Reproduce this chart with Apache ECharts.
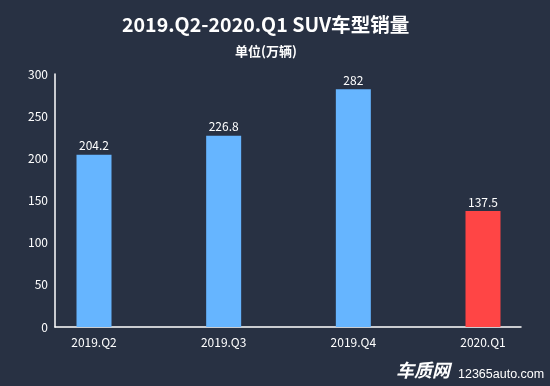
<!DOCTYPE html>
<html><head><meta charset="utf-8">
<script src="https://cdn.jsdelivr.net/npm/echarts@6/dist/echarts.min.js"></script>
<style>html,body{margin:0;padding:0;background:#283143}#c{width:550px;height:386px}</style>
</head><body><div id="c"></div>
<script>
const categories = ['2019.Q2', '2019.Q3', '2019.Q4', '2020.Q1'];
const sales = [204.2, 226.8, 282, 137.5];
const barColors = ['#66b5ff', '#66b5ff', '#66b5ff', '#ff4545'];
const yTicks = { min: 0, max: 300, interval: 50 };
const titleText = '2019.Q2-2020.Q1 SUV车型销量';
const subText = '单位(万辆)';

const font = '"Noto Sans CJK SC", "Noto Sans", sans-serif';
const chart = echarts.init(document.getElementById('c'), null, { renderer: 'canvas' });
chart.setOption({
  backgroundColor: '#283143',
  textStyle: { fontFamily: font },
  title: [
    {
      text: titleText, left: 117, top: 10,
      textStyle: { color: '#ffffff', fontSize: 19.6, fontWeight: 'bold', fontFamily: font }
    },
    {
      text: subText, left: 230, top: 40,
      textStyle: { color: '#ffffff', fontSize: 13, fontWeight: 'bold', fontFamily: font }
    }
  ],
  grid: [
    { left: 94, right: 67, top: 74, bottom: 59 },
    { left: 55, right: 29, top: 74, bottom: 59 }
  ],
  xAxis: [
    {
      type: 'category', gridIndex: 0, data: categories, boundaryGap: false,
      axisLine: { show: false }, axisTick: { show: false },
      axisLabel: { color: '#ffffff', fontSize: 12, margin: 9, fontFamily: font }
    },
    {
      type: 'value', gridIndex: 1, min: 0, max: 1,
      axisLine: { show: true, lineStyle: { color: '#ffffff', width: 1.5 } },
      axisTick: { show: false }, axisLabel: { show: false }, splitLine: { show: false }
    }
  ],
  yAxis: [
    {
      type: 'value', gridIndex: 0, min: yTicks.min, max: yTicks.max, interval: yTicks.interval,
      offset: 39,
      axisLine: { show: true, lineStyle: { color: '#ffffff', width: 1.5 } },
      axisTick: { show: false }, splitLine: { show: false },
      axisLabel: { color: '#ffffff', fontSize: 12, margin: 7, fontFamily: font }
    },
    { type: 'value', gridIndex: 1, show: false, min: 0, max: 1 }
  ],
  series: [{
    type: 'bar', xAxisIndex: 0, yAxisIndex: 0,
    barWidth: 35,
    data: sales.map((v, i) => ({ value: v, itemStyle: { color: barColors[i] } })),
    label: { show: true, position: 'top', distance: 3, color: '#ffffff', fontSize: 12, fontFamily: font }
  }],
  graphic: [
    { type: 'text', left: 396, top: 361, style: { text: '车质网', fill: '#ffffff', font: 'italic bold 18px "Noto Sans CJK SC"' } },
    { type: 'text', left: 458, top: 368, style: { text: '12365auto.com', fill: '#ffffff', font: '12.5px "Liberation Sans", sans-serif' } }
  ]
});
</script></body></html>
